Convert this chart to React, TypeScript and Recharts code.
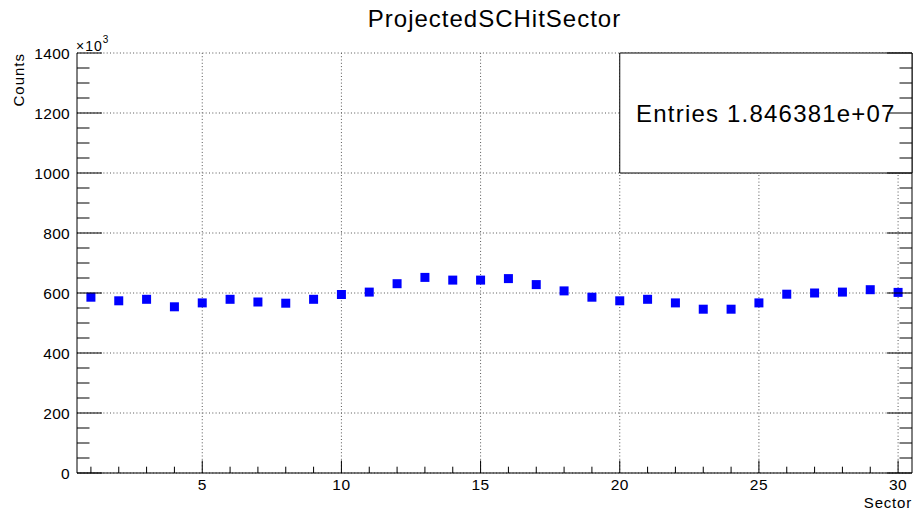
import React from 'react';
import { ScatterChart, Scatter, XAxis, YAxis, ReferenceLine, ReferenceArea, Label } from 'recharts';

const sectors = [1, 2, 3, 4, 5, 6, 7, 8, 9, 10, 11, 12, 13, 14, 15, 16, 17, 18, 19, 20, 21, 22, 23, 24, 25, 26, 27, 28, 29, 30];
const counts = [586, 574, 579, 554, 567, 579, 570, 566, 579, 595, 603, 631, 652, 643, 643, 648, 628, 607, 586, 574, 579, 567, 546, 546, 567, 596, 600, 603, 611, 602];

const xMajorTicks = [5, 10, 15, 20, 25, 30];
const xAllTicks = [1, 2, 3, 4, 5, 6, 7, 8, 9, 10, 11, 12, 13, 14, 15, 16, 17, 18, 19, 20, 21, 22, 23, 24, 25, 26, 27, 28, 29, 30];
const yMajorTicks = [0, 200, 400, 600, 800, 1000, 1200, 1400];
const yAllTicks = [0, 50, 100, 150, 200, 250, 300, 350, 400, 450, 500, 550, 600, 650, 700, 750, 800, 850, 900, 950, 1000, 1050, 1100, 1150, 1200, 1250, 1300, 1350, 1400];
const xDomain = [0.5, 30.5];
const yDomain = [0, 1400];

const title = 'ProjectedSCHitSector';
const xTitle = 'Sector';
const yTitle = 'Counts';
const yExponent = '3';
const statsLabel = 'Entries';
const statsValue = '1.846381e+07';
const statsBox = { x1: 20, x2: 30.5, y1: 1000, y2: 1400 };

const data = sectors.map((s, i) => ({ sector: s, count: counts[i] }));

const CHART_W = 914;
const CHART_H = 514;
const LEFT_W = 77;
const RIGHT_W = 2;
const TOP_M = 53;
const BOTTOM_H = 41;

const FONT = '"Liberation Sans", Arial, Helvetica, sans-serif';
const INK = '#000';
const GRID = '#555';

const BottomTick = (props: any) => {
  const { x, y, payload } = props;
  const major = xMajorTicks.includes(payload.value);
  return (
    <g>
      <line x1={x} x2={x} y1={y} y2={y - (major ? 12.5 : 6.3)} stroke={INK} strokeWidth={1} />
      {major && (
        <text x={x} y={y + 17} textAnchor="middle" fontSize={15.5} letterSpacing={0.5} fontFamily={FONT} fill={INK}>
          {payload.value}
        </text>
      )}
    </g>
  );
};

const TopTick = (props: any) => {
  const { x, y, payload } = props;
  const major = xMajorTicks.includes(payload.value);
  return <line x1={x} x2={x} y1={y} y2={y + (major ? 12.5 : 6.3)} stroke={INK} strokeWidth={1} />;
};

const LeftTick = (props: any) => {
  const { x, y, payload } = props;
  const major = yMajorTicks.includes(payload.value);
  return (
    <g>
      <line x1={x} x2={x + (major ? 25 : 12.5)} y1={y} y2={y} stroke={INK} strokeWidth={1} />
      {major && (
        <text x={x - 7} y={y} dy="0.36em" textAnchor="end" fontSize={15.5} letterSpacing={0.3} fontFamily={FONT} fill={INK}>
          {payload.value}
        </text>
      )}
    </g>
  );
};

const RightTick = (props: any) => {
  const { x, y, payload } = props;
  const major = yMajorTicks.includes(payload.value);
  return <line x1={x} x2={x - (major ? 25 : 12.5)} y1={y} y2={y} stroke={INK} strokeWidth={1} />;
};

const SquareMarker = (props: any) => {
  const { cx, cy } = props;
  if (cx == null || cy == null) return null;
  return <rect x={cx - 4.5} y={cy - 4.5} width={9} height={9} fill="#0000ff" />;
};

const YTitleContent = (props: any) => {
  const vb = props.viewBox || { x: 0, y: TOP_M, width: LEFT_W };
  const tx = vb.x + 24;
  const ty = vb.y;
  const plotLeft = vb.x + vb.width;
  const plotCenter = (plotLeft + (CHART_W - RIGHT_W)) / 2;
  return (
    <g>
      <text x={tx} y={ty} transform={`rotate(-90 ${tx} ${ty})`} textAnchor="end" fontSize={15} letterSpacing={1} fontFamily={FONT} fill={INK}>
        {yTitle}
      </text>
      <text x={plotCenter} y={ty - 26} textAnchor="middle" fontSize={24} letterSpacing={1} fontFamily={FONT} fill={INK}>
        {title}
      </text>
      <text x={plotLeft - 1} y={ty - 2.3} fontSize={14} letterSpacing={1} fontFamily={FONT} fill={INK}>
        ×10
        <tspan dy={-7.5} fontSize={10}>{yExponent}</tspan>
      </text>
    </g>
  );
};

const XTitleContent = (props: any) => {
  const vb = props.viewBox || { x: LEFT_W, y: CHART_H - BOTTOM_H, width: 835 };
  return (
    <text x={vb.x + vb.width} y={vb.y + 35} textAnchor="end" fontSize={15} letterSpacing={0.8} fontFamily={FONT} fill={INK}>
      {xTitle}
    </text>
  );
};

const StatsContent = (props: any) => {
  const vb = props.viewBox || { x: 620, y: 53, width: 292, height: 120 };
  return (
    <text x={vb.x + vb.width / 2} y={vb.y + vb.height / 2} dy="0.36em" textAnchor="middle" fontSize={24} letterSpacing={1.2} fontFamily={FONT} fill={INK}>
      {`${statsLabel} ${statsValue}`}
    </text>
  );
};

export default function App() {
  return (
    <div style={{ position: 'absolute', left: 0, top: 0, width: CHART_W, height: CHART_H, background: '#fff' }}>
      <ScatterChart width={CHART_W} height={CHART_H} margin={{ top: TOP_M, right: 0, bottom: 0, left: 0 }}>
        <XAxis
          xAxisId="b"
          dataKey="sector"
          type="number"
          domain={xDomain}
          ticks={xAllTicks}
          interval={0}
          allowDataOverflow
          height={BOTTOM_H}
          tickSize={0}
          tickMargin={0}
          tickLine={false}
          axisLine={{ stroke: INK, strokeWidth: 1 }}
          tick={<BottomTick />}
        >
          <Label content={<XTitleContent />} />
        </XAxis>
        <XAxis
          xAxisId="t"
          orientation="top"
          dataKey="sector"
          type="number"
          domain={xDomain}
          ticks={xAllTicks}
          interval={0}
          allowDataOverflow
          height={0}
          tickSize={0}
          tickMargin={0}
          tickLine={false}
          axisLine={{ stroke: INK, strokeWidth: 1 }}
          tick={<TopTick />}
        />
        <YAxis
          yAxisId="l"
          dataKey="count"
          type="number"
          domain={yDomain}
          ticks={yAllTicks}
          interval={0}
          allowDataOverflow
          width={LEFT_W}
          tickSize={0}
          tickMargin={0}
          tickLine={false}
          axisLine={{ stroke: INK, strokeWidth: 1 }}
          tick={<LeftTick />}
        >
          <Label content={<YTitleContent />} />
        </YAxis>
        <YAxis
          yAxisId="r"
          orientation="right"
          dataKey="count"
          type="number"
          domain={yDomain}
          ticks={yAllTicks}
          interval={0}
          allowDataOverflow
          width={RIGHT_W}
          tickSize={0}
          tickMargin={0}
          tickLine={false}
          axisLine={{ stroke: INK, strokeWidth: 1 }}
          tick={<RightTick />}
        />
        {xMajorTicks.map((v) => (
          <ReferenceLine key={`vx${v}`} xAxisId="b" yAxisId="l" x={v} stroke={GRID} strokeWidth={1} strokeDasharray="1 2.3" zIndex={-50} />
        ))}
        {yMajorTicks.map((v) => (
          <ReferenceLine key={`hy${v}`} xAxisId="b" yAxisId="l" y={v} stroke={GRID} strokeWidth={1} strokeDasharray="1 2.3" zIndex={-50} />
        ))}
        <Scatter
          xAxisId="b"
          yAxisId="l"
          data={data}
          dataKey="count"
          shape={<SquareMarker />}
          isAnimationActive={false}
        />
        <ReferenceArea
          xAxisId="b"
          yAxisId="l"
          x1={statsBox.x1}
          x2={statsBox.x2}
          y1={statsBox.y1}
          y2={statsBox.y2}
          fill="#fff"
          fillOpacity={1}
          stroke={INK}
          strokeWidth={1}
          strokeOpacity={1}
          zIndex={1500}
          label={<StatsContent />}
        />
      </ScatterChart>
    </div>
  );
}
